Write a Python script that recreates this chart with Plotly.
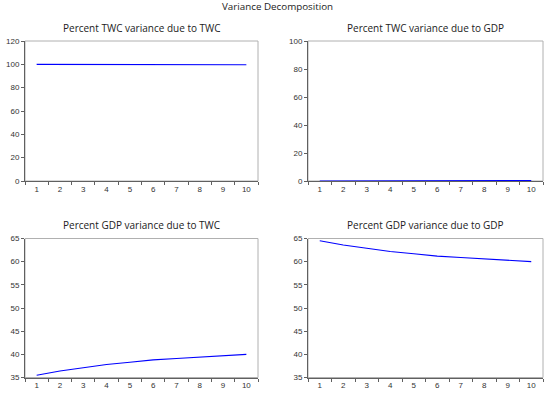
import plotly.graph_objects as go

periods = [str(i) for i in range(1, 11)]
twc_due_gdp = [0.0, 0.02, 0.05, 0.09, 0.13, 0.18, 0.23, 0.28, 0.33, 0.38]
twc_due_twc = [100 - v for v in twc_due_gdp]
gdp_due_twc = [35.5, 36.4, 37.1, 37.8, 38.3, 38.8, 39.1, 39.4, 39.7, 40.0]
gdp_due_gdp = [100 - v for v in gdp_due_twc]

titles = ["Percent TWC variance due to TWC", "Percent TWC variance due to GDP",
          "Percent GDP variance due to TWC", "Percent GDP variance due to GDP"]
series = [twc_due_twc, twc_due_gdp, gdp_due_twc, gdp_due_gdp]
yranges = [[0, 120], [0, 100], [35, 65], [35, 65]]
ydticks = [20, 20, 5, 5]

W, H = 550, 394
xdoms = [[25 / W, 258 / W], [308 / W, 543 / W]]
ydoms = [[1 - 181 / H, 1 - 41 / H], [1 - 377.5 / H, 1 - 238.5 / H]]

fig = go.Figure()
axis_dark = "#606060"
frame_light = "#b0b0b0"
for i in range(4):
    r, c = divmod(i, 2)
    sfx = "" if i == 0 else str(i + 1)
    fig.add_shape(type="rect", xref=f"x{sfx} domain", yref=f"y{sfx} domain",
                  x0=0, x1=1, y0=0, y1=1, line=dict(color=frame_light, width=1),
                  layer="below")
    fig.add_trace(go.Scatter(x=periods, y=series[i], mode="lines",
                             line=dict(color="#0000ff", width=1.1),
                             xaxis="x" + sfx, yaxis="y" + sfx, showlegend=False,
                             hoverinfo="skip"))
    fig.layout["xaxis" + sfx] = dict(
        domain=xdoms[c], anchor="y" + sfx, type="category",
        tickson="boundaries", ticks="outside", ticklen=3, tickcolor=axis_dark,
        showline=True, linecolor=axis_dark, linewidth=1, mirror=False,
        showgrid=False, zeroline=False, range=[-0.5, 9.5], fixedrange=True,
        automargin=False,
        tickfont=dict(family="Liberation Sans", size=8, color="#333333"))
    fig.layout["yaxis" + sfx] = dict(
        domain=ydoms[r], anchor="x" + sfx, range=yranges[i], dtick=ydticks[i],
        tick0=0, ticks="outside", ticklen=3, tickcolor=axis_dark,
        showline=True, linecolor=axis_dark, linewidth=1, mirror=False,
        showgrid=False, zeroline=False, fixedrange=True, automargin=False,
        tickfont=dict(family="Liberation Sans", size=8, color="#333333"))
    xc = (xdoms[c][0] + xdoms[c][1]) / 2
    fig.add_annotation(text=titles[i], x=xc, y=ydoms[r][1], xref="paper", yref="paper",
                       xanchor="center", yanchor="bottom", yshift=4, showarrow=False,
                       font=dict(family="Open Sans", size=10, color="#222222"))

fig.add_annotation(text="Variance Decomposition", x=277 / W, y=1 - 7 / H, xref="paper",
                   yref="paper", xanchor="center", yanchor="middle", showarrow=False,
                   font=dict(family="Open Sans", size=9.8, color="#222222"))

fig.update_layout(width=W, height=H, margin=dict(l=0, r=0, t=0, b=0, autoexpand=False),
                  paper_bgcolor="white", plot_bgcolor="white")
fig.write_html("out.html", config={"displayModeBar": False},
               post_script="document.body.style.margin='0';document.body.style.overflow='hidden';")
